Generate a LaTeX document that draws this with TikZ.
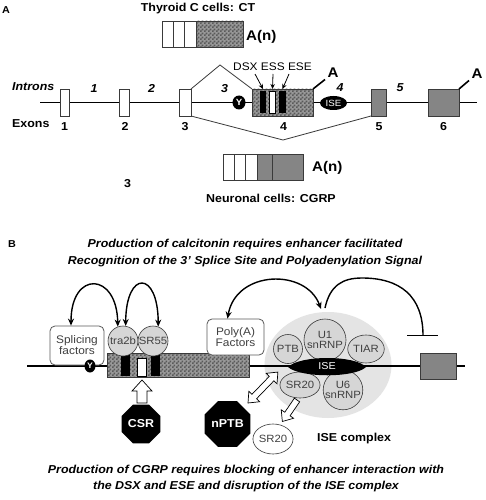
\documentclass[tikz,border=0pt]{standalone}
\usepackage{fontspec}
\setmainfont{Liberation Sans}[FakeStretch=1.08]
\usetikzlibrary{shapes.geometric,arrows.meta,patterns}

\pgfdeclarepatternformonly{checker}{\pgfqpoint{0pt}{0pt}}{\pgfqpoint{4pt}{4pt}}{\pgfqpoint{4pt}{4pt}}{%
  \pgfpathrectangle{\pgfqpoint{0pt}{0pt}}{\pgfqpoint{2pt}{2pt}}%
  \pgfpathrectangle{\pgfqpoint{2pt}{2pt}}{\pgfqpoint{2pt}{2pt}}%
  \pgfusepath{fill}}

\definecolor{hatchlight}{HTML}{989898}
\definecolor{hatchdark}{HTML}{5A5A5A}
\definecolor{exongray}{HTML}{858585}
\definecolor{circfill}{HTML}{D6D6D6}
\definecolor{cplxfill}{HTML}{E4E4E4}
\definecolor{linegray}{HTML}{3A3A3A}
\definecolor{txtgray}{HTML}{404040}

\newcommand\fsz[1]{\fontsize{#1}{#1}\selectfont}
\newcommand\openarr[4]{%
  \draw[fill=white, line width=0.7pt] (0,-#2) -- ({#1-#4},-#2) -- ({#1-#4},-#3) -- (#1,0)
    -- ({#1-#4},#3) -- ({#1-#4},#2) -- (0,#2) -- cycle;}
\newcommand\openarrd[4]{%
  \draw[fill=white, line width=0.7pt] (0,0) -- (#4,-#3) -- (#4,-#2) -- ({#1-#4},-#2) -- ({#1-#4},-#3) -- (#1,0)
    -- ({#1-#4},#3) -- ({#1-#4},#2) -- (#4,#2) -- (#4,#3) -- cycle;}

\tikzset{
  bl/.style={font=\fsz{11.5}\bfseries, inner sep=0pt},
  bil/.style={font=\fsz{11.5}\bfseries\itshape, inner sep=0pt},
  rg/.style={font=\fsz{11}, inner sep=0pt},
  exonw/.style={draw=linegray, fill=white, line width=0.7pt, inner sep=0pt, outer sep=0pt, minimum height=27pt},
  exong/.style={draw=linegray, fill=exongray, line width=0.7pt, inner sep=0pt, outer sep=0pt},
  hatch/.style={draw=linegray, line width=0.7pt, preaction={fill=hatchlight}, pattern=checker, pattern color=hatchdark, inner sep=0pt, outer sep=0pt},
  ovalb/.style={ellipse, fill=black, text=white, inner sep=0pt},
  mainline/.style={line width=1.4pt},
  splice/.style={line width=0.8pt, draw=linegray},
  tipa/.style={-{Stealth[length=5pt,width=4.5pt]}, line width=0.8pt},
  arcs/.style={line width=1.4pt, {Stealth[length=7pt,width=6pt]}-{Stealth[length=7pt,width=6pt]}},
  prot/.style={circle, draw=linegray, fill=circfill, line width=0.6pt, inner sep=0pt, font=\fsz{10.5}, text=txtgray, align=center},
  prote/.style={ellipse, draw=linegray, fill=circfill, line width=0.6pt, inner sep=0pt, font=\fsz{10.5}, text=txtgray, align=center},
  fbox/.style={draw=black!65, fill=white, rounded corners=5pt, line width=0.8pt, inner sep=0pt, align=center, font=\fsz{11}, text=txtgray},
  octo/.style={regular polygon, regular polygon sides=8, fill=black, text=white, inner sep=0pt, minimum size=42pt, font=\fsz{11.5}\bfseries},
}

\begin{document}
\begin{tikzpicture}[x=1pt, y=-1pt]
\useasboundingbox (0,0) rectangle (485,500);
\fill[white] (0,0) rectangle (485,500);

% ================= Panel A =================
\node[font=\fsz{10}\bfseries, anchor=base] (labA) at (6,14) {A};
\node[bl, anchor=base] (ttl) at (198,11.5) {Thyroid C cells: CT};

% CT mRNA
\draw[line width=0.7pt, draw=linegray, fill=white] (162,21) rectangle (173,47);
\draw[line width=0.7pt, draw=linegray, fill=white] (173,21) rectangle (184,47);
\draw[line width=0.7pt, draw=linegray, fill=white] (184,21) rectangle (196,47);
\draw[hatch] (196,21) rectangle (243,47);
\node[font=\fsz{14}\bfseries, anchor=base west, inner sep=0pt] (an1) at (246,41) {A(n)};

% gene
\coordinate (la) at (40,102.5);
\coordinate (lb) at (477,102.5);
\draw[mainline] (la) -- (lb);

\node[exonw, minimum width=9pt] (e1) at (64.5,102.5) {};
\node[exonw, minimum width=10pt] (e2) at (124,102.5) {};
\node[exonw, minimum width=12pt] (e3) at (185,102.5) {};
\node[hatch, minimum width=61pt, minimum height=27pt] (e4) at (282.5,102.5) {};
\node[fill=black, inner sep=0pt, minimum width=6pt, minimum height=22pt] (dsx) at (263,102.5) {};
\node[draw=black, fill=white, line width=0.6pt, inner sep=0pt, minimum width=6pt, minimum height=22pt] (ess) at (272.5,102.5) {};
\node[fill=black, inner sep=0pt, minimum width=7pt, minimum height=22pt] (ese) at (282.5,102.5) {};
\node[exong, minimum width=15pt, minimum height=27pt] (e5) at (378.5,102.5) {};
\node[exong, minimum width=31pt, minimum height=27pt] (e6) at (443.5,102.5) {};

\node[ovalb, minimum width=13pt, minimum height=14pt, font=\fsz{9}\bfseries] (y1) at (239,102.5) {Y};
\node[ovalb, minimum width=27pt, minimum height=14pt, font=\fsz{9}] (ise1) at (333.5,103) {ISE};

% splicing paths
\coordinate (up) at (220,65);
\coordinate (dn) at (283,140);
\draw[splice] (e3.north east) -- (up) -- (e4.north west);
\draw[splice] (e3.south east) -- (dn) -- (e5.south west);

% labels
\node[bil, anchor=base west] (intr) at (12,90.5) {Introns};
\node[bl, anchor=base west] (exn) at (12,128) {Exons};
\node[bil, anchor=base] (i1) at (94,93) {1};
\node[bil, anchor=base] (i2) at (151.5,93) {2};
\node[bil, anchor=base] (i3) at (224.5,93) {3};
\node[bil, anchor=base] (i4) at (340,92) {4};
\node[bil, anchor=base] (i5) at (400,92) {5};
\node[bl, anchor=base] (x1) at (64.5,130) {1};
\node[bl, anchor=base] (x2) at (125,130) {2};
\node[bl, anchor=base] (x3) at (185,130) {3};
\node[bl, anchor=base] (x4) at (283.5,130) {4};
\node[bl, anchor=base] (x5) at (379,130) {5};
\node[bl, anchor=base] (x6) at (443.5,130) {6};

\node[rg, anchor=base] (tlab) at (272.5,71) {DSX ESS ESE};
\draw[tipa] (255,74) -- (dsx.north |- e4.north);
\draw[tipa] (273,74) -- (ess.north |- e4.north);
\draw[tipa] (289,74) -- (ese.north |- e4.north);

\node[font=\fsz{14}\bfseries, anchor=base, inner sep=0pt] (a4) at (333,78) {A};
\coordinate (a4e) at (325,79.5);
\draw[line width=1.6pt] (e4.north east) -- (a4e);
\node[font=\fsz{14}\bfseries, anchor=base, inner sep=0pt] (a6) at (477,79) {A};
\coordinate (a6e) at (469,80.5);
\draw[line width=1.6pt] (e6.north east) -- (a6e);

% CGRP mRNA
\draw[line width=0.7pt, draw=linegray, fill=white] (223,154) rectangle (234,180);
\draw[line width=0.7pt, draw=linegray, fill=white] (234,154) rectangle (245,180);
\draw[line width=0.7pt, draw=linegray, fill=white] (245,154) rectangle (257,180);
\draw[line width=0.7pt, draw=linegray, fill=exongray] (257,154) rectangle (272,180);
\draw[line width=0.7pt, draw=linegray, fill=exongray] (272,154) rectangle (303,180);
\node[font=\fsz{14}\bfseries, anchor=base west, inner sep=0pt] (an2) at (312,171) {A(n)};
\node[bl, anchor=base] (stray) at (127.5,187) {3};
\node[bl, anchor=base] (neu) at (271,202) {Neuronal cells: CGRP};

% ================= Panel B =================
\node[font=\fsz{10}\bfseries, anchor=base] (labB) at (12,247) {B};
\node[bil, anchor=base] (t1) at (245,247) {Production of calcitonin requires enhancer facilitated};
\node[bil, anchor=base] (t2) at (245,264.5) {Recognition of the 3' Splice Site and Polyadenylation Signal};

\node[ellipse, fill=cplxfill, inner sep=0pt, minimum width=127pt, minimum height=106pt] (cplx) at (328,365) {};

\draw[mainline] (27,366) coordinate (lc) -- (465,366) coordinate (ld);

\node[hatch, minimum width=142pt, minimum height=24pt] (e4b) at (178,365) {};
\node[fill=black, inner sep=0pt, minimum width=9pt, minimum height=24pt] (bar1) at (125,364) {};
\node[draw=black, fill=white, line width=0.6pt, inner sep=0pt, minimum width=9pt, minimum height=18pt] (bar2) at (141.5,367) {};
\node[fill=black, inner sep=0pt, minimum width=9pt, minimum height=24pt] (bar3) at (155.5,364) {};
\node[exong, minimum width=36pt, minimum height=26pt] (e5b) at (438,366) {};

\node[prot, minimum size=30pt] (tra) at (123,341) {tra2b};
\node[prot, minimum size=30pt] (sr55) at (153,341) {SR55};

\node[fbox, minimum width=54pt, minimum height=39pt] (sf) at (77,345.5) {Splicing\\factors};
\node[ovalb, minimum width=11pt, minimum height=13pt, font=\fsz{8}\bfseries] (y2) at (90,366) {Y};
\node[fbox, minimum width=57pt, minimum height=36pt] (pa) at (235.5,337) {Poly(A)\\Factors};

% ISE complex
\node[prot, minimum size=29pt] (ptb) at (288,349) {PTB};
\node[prote, minimum width=34pt, minimum height=28pt] (tiar) at (366,349) {TIAR};
\node[prot, minimum size=42pt] (u1) at (325,340) {U1\\[-1pt]snRNP};
\node[prote, minimum width=29pt, minimum height=26pt] (sr20) at (300,385) {SR20};
\node[prot, minimum size=39pt] (u6) at (343,390) {U6\\[-1pt]snRNP};
\fill[black] (288,367) .. controls (300,355) and (355,355) .. (366,367) .. controls (355,378) and (300,378) .. (288,367);
\node[font=\fsz{10}, text=white, inner sep=0pt] (iseb) at (327,366) {ISE};

% arcs
\coordinate (c3) at (321,309);
\coordinate (c4) at (325,308);
\coordinate (tb) at (423,335.5);
\draw[arcs] ([xshift=-6pt]sf.north) .. controls (71,270) and (117,272) .. (tra.110);
\draw[arcs] (tra.80) .. controls (126,270) and (158,270) .. (sr55.70);
\draw[arcs] ([xshift=-8pt]pa.north) .. controls (236,270) and (306,268) .. (c3);
\draw[line width=1.4pt] (c4) .. controls (330,285) and (343,278) .. (362,278) .. controls (400,278) and (423,296) .. (tb);
\draw[line width=1.6pt] ([xshift=-16pt]tb) -- ([xshift=15pt]tb);

% bottom factors
\node[octo] (csr) at (141,424) {CSR};
\node[octo] (nptb) at (227.5,424) {nPTB};
\node[ellipse, draw=linegray, fill=white, line width=0.6pt, inner sep=0pt, font=\fsz{10.5}, text=txtgray, minimum width=33pt, minimum height=30pt] (sr20f) at (273,439) {SR20};

\begin{scope}[shift={(142,403)}, rotate=90]
  \openarr{23}{5}{10}{11}
\end{scope}
\begin{scope}[shift={(248,403)}, rotate=46]
  \openarrd{43}{3.2}{7.5}{9}
\end{scope}
\begin{scope}[shift={(297,400)}, rotate=235.7]
  \openarr{26}{3.2}{7.5}{9}
\end{scope}

\node[bl, anchor=base west] (isec) at (317,441) {ISE complex};

\node[bil, anchor=base] (b1) at (246,473) {Production of CGRP requires blocking of enhancer interaction with};
\node[bil, anchor=base] (b2) at (246,489) {the DSX and ESE and disruption of the ISE complex};
\end{tikzpicture}
\end{document}
